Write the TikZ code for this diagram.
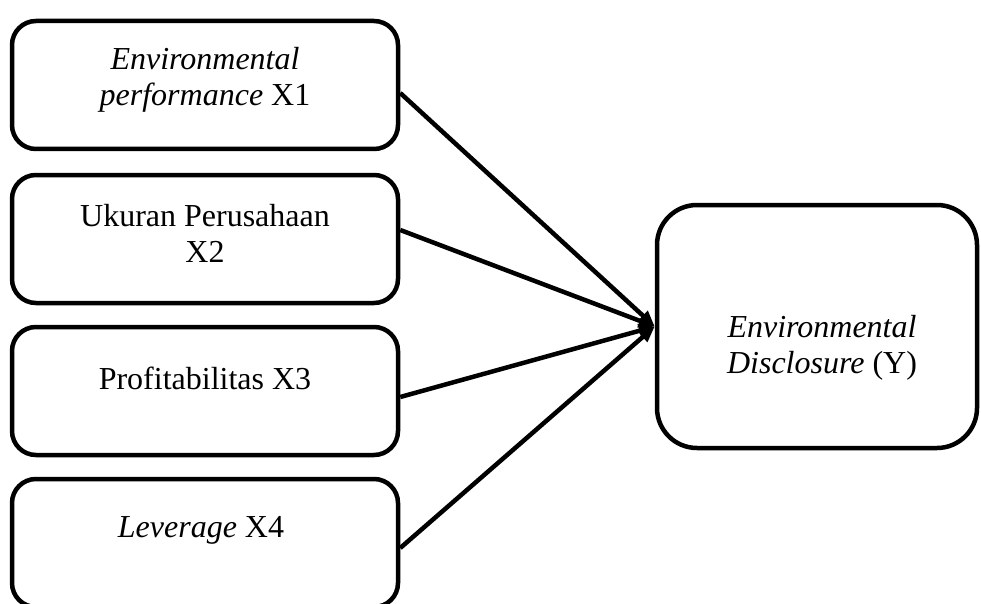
\documentclass[tikz,border=0pt]{standalone}
\usepackage{fontspec}
\setmainfont{Liberation Serif}
\usetikzlibrary{arrows.meta}

\tikzset{
    varbox/.style={draw, line width=4.5pt, rounded corners=24pt,
        minimum width=386pt, minimum height=128pt},
    resbox/.style={draw, line width=4.5pt, rounded corners=40pt,
        minimum width=320pt, minimum height=243pt},
    varlabel/.style={font=\fontsize{32}{36}\selectfont, align=center, inner sep=0pt},
    effect/.style={line width=4.5pt, -{Triangle[length=16pt,width=13pt]}}
}

\begin{document}
\begin{tikzpicture}[x=1pt, y=-1pt]
    \useasboundingbox (0,0) rectangle (981,604);

    % Dependent variable box
    \node[resbox] (y) at (817,326.5) {};
    \node[varlabel] (ylab) at (822,348)
        {\textit{Environmental}\\\textit{Disclosure} (Y)};

    % Independent variables, each with its arrow to Y
    \foreach \i/\cy/\ty/\dy/\txt in {
        1/85/80/-8/{\textit{Environmental}\\\textit{performance} X1},
        2/239/233/9/{Ukuran Perusahaan\\X2},
        3/391/378/-6/{Profitabilitas X3},
        4/543/530/-5/{\textit{Leverage} X4}
    }{
        \node[varbox] (x\i) at (205,\cy) {};
        \node[varlabel] (x\i lab) at (205,\ty) {\txt};
        \draw[effect] ([yshift=\dy pt]x\i.east) -- (y.west);
    }
\end{tikzpicture}
\end{document}
